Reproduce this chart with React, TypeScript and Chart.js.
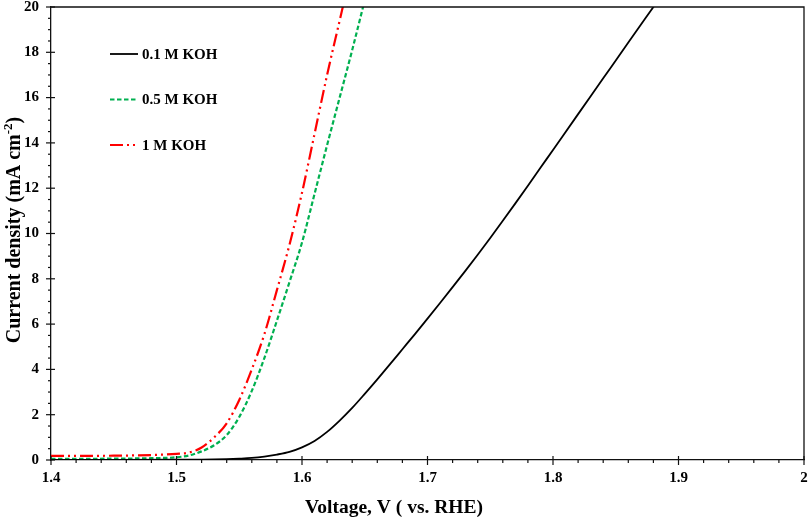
import React, { useEffect, useRef } from "react";
import { Chart, registerables } from "chart.js";

Chart.register(...registerables);

// 0.1 M KOH
const v01 = [1.40, 1.45, 1.50, 1.52, 1.54, 1.55, 1.56, 1.57, 1.58, 1.59, 1.60, 1.61, 1.62, 1.63, 1.64, 1.65, 1.66, 1.67, 1.68, 1.69, 1.70, 1.71, 1.72, 1.73, 1.74, 1.75, 1.76, 1.77, 1.78, 1.79, 1.80, 1.82, 1.84, 1.86, 1.88, 1.90];
const j01 = [0, 0, 0.01, 0.02, 0.04, 0.06, 0.09, 0.15, 0.24, 0.36, 0.56, 0.84, 1.24, 1.74, 2.3, 2.92, 3.56, 4.22, 4.89, 5.56, 6.24, 6.93, 7.63, 8.34, 9.06, 9.8, 10.56, 11.33, 12.11, 12.9, 13.69, 15.27, 16.85, 18.43, 20.0, 21.57];
// 0.5 M KOH
const v05 = [1.40, 1.45, 1.48, 1.50, 1.51, 1.52, 1.53, 1.54, 1.55, 1.56, 1.57, 1.58, 1.59, 1.60, 1.61, 1.62, 1.63, 1.64, 1.65];
const j05 = [0.05, 0.06, 0.08, 0.12, 0.2, 0.38, 0.65, 1.1, 1.9, 3.05, 4.5, 6.15, 7.85, 9.6, 11.75, 13.9, 16.0, 18.1, 20.3];
// 1 M KOH
const v1 = [1.40, 1.45, 1.48, 1.50, 1.51, 1.52, 1.53, 1.54, 1.55, 1.56, 1.57, 1.58, 1.59, 1.60, 1.61, 1.62, 1.63, 1.64];
const j1 = [0.18, 0.19, 0.22, 0.27, 0.33, 0.55, 1.0, 1.62, 2.65, 4.0, 5.55, 7.5, 9.5, 11.8, 14.4, 17.0, 19.4, 21.8];

const seriesLabels = ["0.1 M KOH", "0.5 M KOH", "1 M KOH"];
const xMin = 1.4, xMax = 2.0, xStep = 0.1, xMinor = 0.02;
const yMin = 0, yMax = 20, yStep = 2, yMinor = 0.5;
const xTitle = "Voltage, V ( vs. RHE)";
const yTitleMain = "Current density (mA cm";
const yTitleSup = "-2";
const yTitleEnd = ")";

const FONT = '"Liberation Serif", "Times New Roman", serif';

const toPts = (xs: number[], ys: number[]) => xs.map((x, i) => ({ x, y: ys[i] }));

const decorPlugin = {
  id: "decor",
  afterDraw(chart: any) {
    const { ctx, chartArea, scales } = chart;
    const xs = scales.x, ys = scales.y;
    ctx.save();
    ctx.strokeStyle = "#111";
    ctx.lineWidth = 1.3;
    // frame top & right
    ctx.beginPath();
    ctx.moveTo(chartArea.left, chartArea.top);
    ctx.lineTo(chartArea.right, chartArea.top);
    ctx.lineTo(chartArea.right, chartArea.bottom);
    ctx.stroke();
    // x ticks
    ctx.lineWidth = 1.2;
    const nx = Math.round((xMax - xMin) / xMinor);
    for (let i = 0; i <= nx; i++) {
      const v = xMin + i * xMinor;
      const px = xs.getPixelForValue(v);
      const major = i % Math.round(xStep / xMinor) === 0;
      ctx.beginPath();
      if (major) {
        ctx.moveTo(px, chartArea.bottom - 4);
        ctx.lineTo(px, chartArea.bottom + 5);
      } else {
        ctx.moveTo(px, chartArea.bottom);
        ctx.lineTo(px, chartArea.bottom + 3);
      }
      ctx.stroke();
    }
    const ny = Math.round((yMax - yMin) / yMinor);
    for (let i = 0; i <= ny; i++) {
      const v = yMin + i * yMinor;
      const py = ys.getPixelForValue(v);
      const major = i % Math.round(yStep / yMinor) === 0;
      ctx.beginPath();
      if (major) {
        ctx.moveTo(chartArea.left - 5, py);
        ctx.lineTo(chartArea.left + 4, py);
      } else {
        ctx.moveTo(chartArea.left - 3, py);
        ctx.lineTo(chartArea.left, py);
      }
      ctx.stroke();
    }
    // legend
    const lx = chartArea.left + 59;
    chart.data.datasets.forEach((ds: any, i: number) => {
      const ly = chartArea.top + 47 + i * 45.5;
      ctx.save();
      ctx.strokeStyle = ds.borderColor;
      ctx.lineWidth = ds.borderWidth;
      ctx.setLineDash(ds.borderDash || []);
      ctx.beginPath();
      ctx.moveTo(lx, ly);
      ctx.lineTo(lx + 28, ly);
      ctx.stroke();
      ctx.restore();
      ctx.fillStyle = "#000";
      ctx.font = `bold 15px ${FONT}`;
      ctx.textAlign = "left";
      ctx.textBaseline = "middle";
      ctx.fillText(ds.label, lx + 32, ly + 1);
    });
    // x title
    ctx.fillStyle = "#000";
    ctx.font = `bold 19.5px ${FONT}`;
    ctx.textAlign = "center";
    ctx.textBaseline = "alphabetic";
    ctx.fillText(xTitle, 394, 513);
    // y title with superscript
    ctx.save();
    ctx.translate(20, 230);
    ctx.rotate(-Math.PI / 2);
    ctx.textAlign = "left";
    const mainFont = `bold 20px ${FONT}`;
    const supFont = `bold 13px ${FONT}`;
    ctx.font = mainFont;
    const w1 = ctx.measureText(yTitleMain).width;
    const w3 = ctx.measureText(yTitleEnd).width;
    ctx.font = supFont;
    const w2 = ctx.measureText(yTitleSup).width;
    const total = w1 + w2 + w3;
    let x0 = -total / 2;
    ctx.font = mainFont;
    ctx.fillText(yTitleMain, x0, 0);
    x0 += w1;
    ctx.font = supFont;
    ctx.fillText(yTitleSup, x0, -8);
    x0 += w2;
    ctx.font = mainFont;
    ctx.fillText(yTitleEnd, x0, 0);
    ctx.restore();
    ctx.restore();
  },
};

export default function App() {
  const ref = useRef<HTMLCanvasElement | null>(null);
  useEffect(() => {
    if (!ref.current) return;
    const chart = new Chart(ref.current, {
      type: "line",
      data: {
        datasets: [
          {
            label: seriesLabels[0],
            data: toPts(v01, j01),
            borderColor: "#000000",
            borderWidth: 1.8,
            pointRadius: 0,
            cubicInterpolationMode: "monotone",
          },
          {
            label: seriesLabels[1],
            data: toPts(v05, j05),
            borderColor: "#00b050",
            borderWidth: 2.2,
            borderDash: [4.5, 2.5],
            pointRadius: 0,
            cubicInterpolationMode: "monotone",
          },
          {
            label: seriesLabels[2],
            data: toPts(v1, j1),
            borderColor: "#ff0000",
            borderWidth: 2.2,
            borderDash: [13, 4, 2, 4, 2, 4],
            pointRadius: 0,
            cubicInterpolationMode: "monotone",
          },
        ],
      },
      options: {
        responsive: false,
        animation: false,
        devicePixelRatio: 1,
        layout: { padding: { top: 7, right: 5, left: 0, bottom: 0 } },
        plugins: { legend: { display: false }, tooltip: { enabled: false } },
        scales: {
          x: {
            type: "linear",
            min: xMin,
            max: xMax,
            grid: { display: false, drawTicks: false },
            border: { display: true, color: "#111", width: 1.3 },
            ticks: {
              stepSize: xStep,
              padding: 9,
              color: "#000",
              font: { family: FONT, size: 15, weight: "bold" },
              callback: (v: any) => String(Math.round(Number(v) * 10) / 10),
              maxRotation: 0,
            },
            afterFit: (s: any) => {
              s.height = 59;
              s.paddingLeft = 0;
              s.paddingRight = 0;
            },
          },
          y: {
            type: "linear",
            min: yMin,
            max: yMax,
            grid: { display: false, drawTicks: false },
            border: { display: true, color: "#111", width: 1.3 },
            ticks: {
              stepSize: yStep,
              padding: 12,
              color: "#000",
              font: { family: FONT, size: 15, weight: "bold" },
              callback: (v: any) => String(Math.round(Number(v))),
            },
            afterFit: (s: any) => {
              s.width = 51;
              s.paddingTop = 0;
              s.paddingBottom = 0;
            },
          },
        },
      },
      plugins: [decorPlugin],
    } as any);
    return () => chart.destroy();
  }, []);
  return (
    <div style={{ position: "fixed", left: 0, top: 0, width: 809, height: 519, background: "#fff" }}>
      <canvas ref={ref} width={809} height={519} style={{ display: "block" }} />
    </div>
  );
}
